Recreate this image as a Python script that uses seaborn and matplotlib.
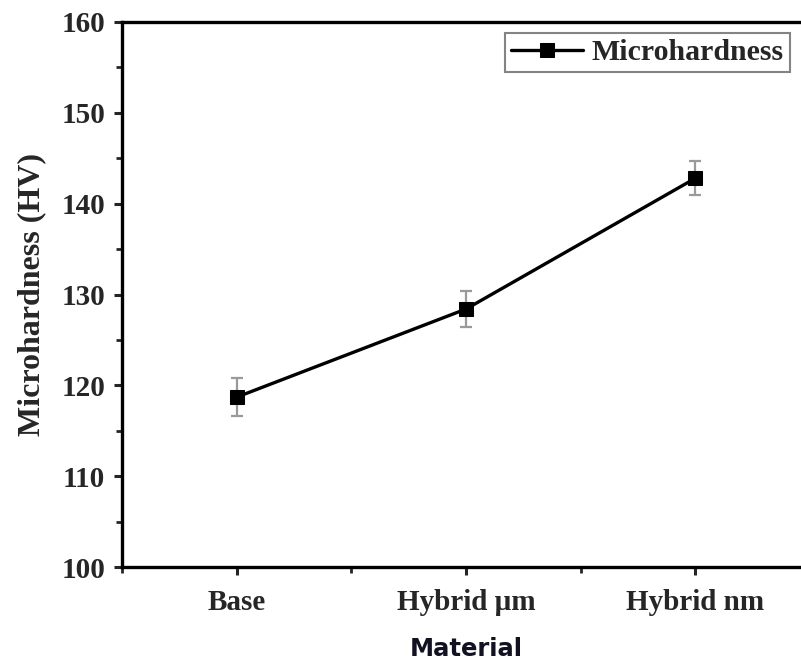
import numpy as np
import pandas as pd
import matplotlib
matplotlib.use("Agg")
import matplotlib.pyplot as plt
from matplotlib.ticker import MultipleLocator
import seaborn as sns

# Measured microhardness per material
materials = ["Base", "Hybrid \u00b5m", "Hybrid nm"]
hardness = [118.7, 128.4, 142.8]
hardness_err = [2.1, 2.0, 1.9]

sns.set_style("ticks")
plt.rcParams["font.family"] = ["Liberation Serif", "DejaVu Serif"]

df = pd.DataFrame({"pos": np.arange(len(materials)),
                   "material": materials,
                   "hv": hardness,
                   "err": hardness_err})

fig = plt.figure(figsize=(8.01, 6.65), dpi=100)
ax = fig.add_axes([122 / 801, (665 - 567) / 665, (810 - 122) / 801, (567 - 22) / 665])

ax.errorbar(df["pos"], df["hv"], yerr=df["err"], fmt="none",
            ecolor="#9a9a9a", elinewidth=1.6, capsize=4, capthick=1.6, zorder=2)
sns.lineplot(data=df, x="pos", y="hv", ax=ax, color="black", linewidth=2.4,
             marker="s", markersize=9.5, markeredgecolor="black",
             label="Microhardness", zorder=3)

ax.set_xlim(-0.5, len(materials) - 0.5)
ax.set_ylim(100, 160)
ax.set_xticks(df["pos"])
ax.set_xticklabels(materials)
ax.xaxis.set_minor_locator(MultipleLocator(0.5))
ax.yaxis.set_major_locator(MultipleLocator(10))
ax.yaxis.set_minor_locator(MultipleLocator(5))

for lab in ax.get_xticklabels() + ax.get_yticklabels():
    lab.set_fontweight("bold")
    lab.set_fontsize(21)

ax.tick_params(axis="x", which="major", pad=10)
ax.tick_params(axis="y", which="major", pad=6)
ax.tick_params(which="major", direction="out", length=6, width=2.2)
ax.tick_params(which="minor", direction="out", length=4, width=2.0)

for side in ["left", "bottom", "top", "right"]:
    ax.spines[side].set_linewidth(2.4)
    ax.spines[side].set_color("black")

ax.set_ylabel("Microhardness (HV)", fontsize=23, fontweight="bold", labelpad=11)
ax.set_xlabel("Material", fontsize=17.5, fontweight="bold",
              family=["DejaVu Sans"], color="#111122", labelpad=15)

leg = ax.legend(loc="upper left", bbox_to_anchor=((505 - 122) / 688, 1 - (33 - 22) / 545),
                prop={"family": "Liberation Serif", "weight": "bold", "size": 21.5},
                frameon=True, fancybox=False, edgecolor="#666666",
                handlelength=2.4, handletextpad=0.3, borderpad=0.2, borderaxespad=0)
leg.get_frame().set_linewidth(1.5)

fig.savefig("out.png", dpi=100, facecolor="white")
